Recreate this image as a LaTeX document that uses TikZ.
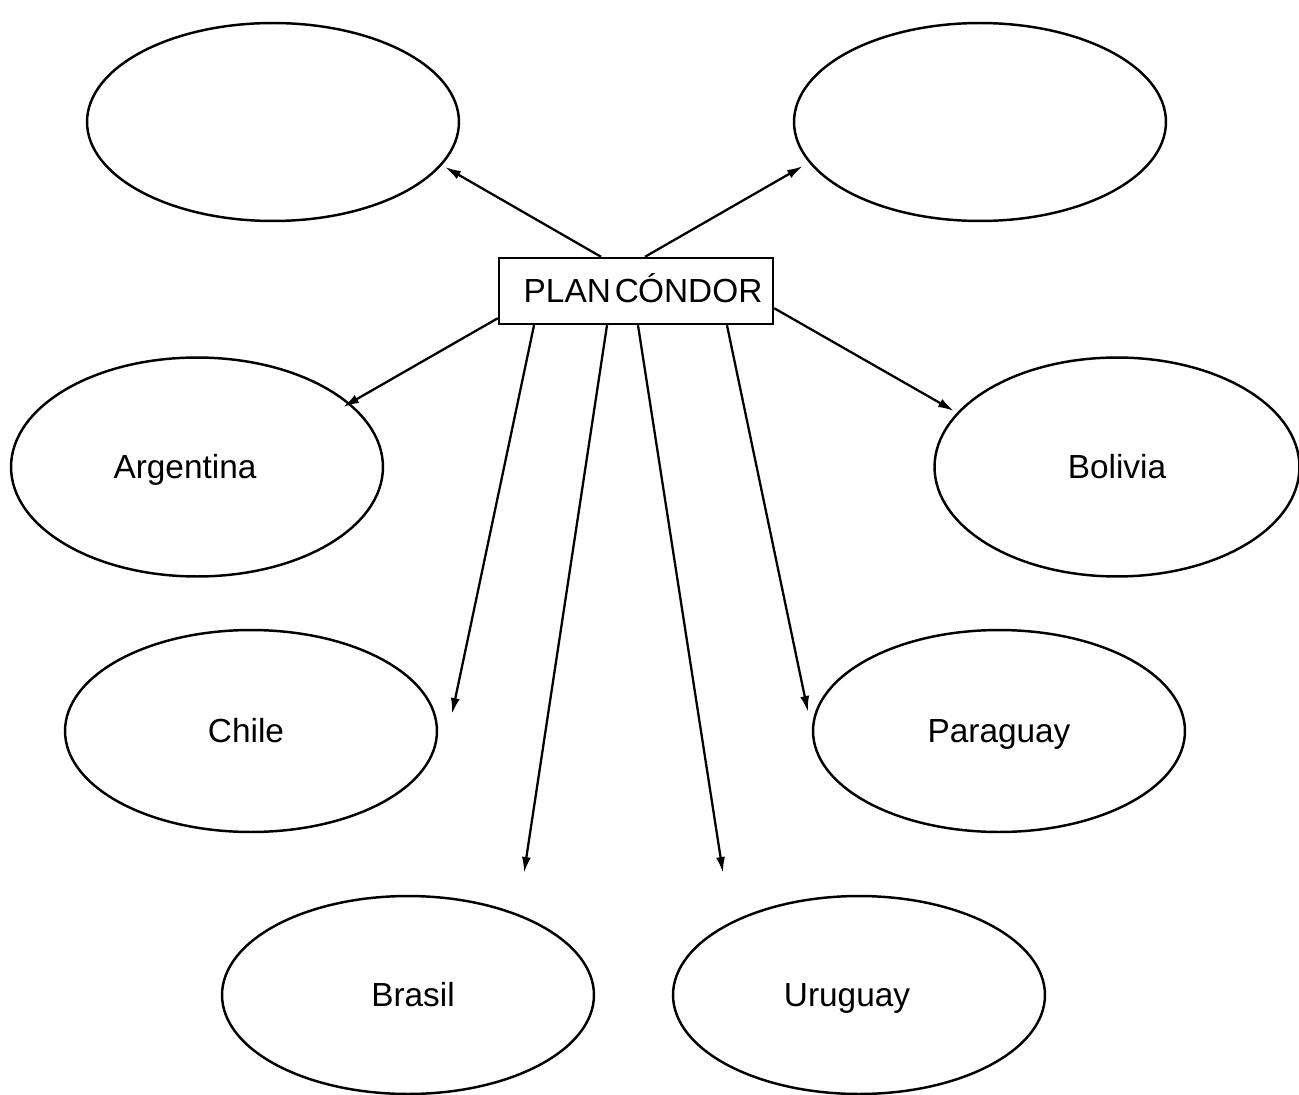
\documentclass[tikz,border=0pt]{standalone}
\usepackage{fontspec}
\setmainfont{Liberation Sans}
\usetikzlibrary{shapes.geometric,arrows.meta}
\begin{document}
\begin{tikzpicture}[x=0.02cm,y=-0.02cm,
        pais/.style={draw,ellipse,line width=1.4pt,minimum width=7.44cm,minimum height=3.96cm,inner sep=0pt,text height=13.6pt,text depth=0pt,font=\fontsize{19}{23}\selectfont},
        caja/.style={draw,line width=1.4pt,minimum width=5.48cm,minimum height=1.32cm,inner sep=0pt,text height=13.6pt,text depth=0pt,font=\fontsize{19}{23}\selectfont},
        flecha/.style={line width=1.3pt,-{Latex[length=3.2mm,width=1.8mm]}}]
        \useasboundingbox (0,0) rectangle (1299,1095);
        \node[caja] (plan) at (636,291) {\kern8pt PLAN\hspace{-3pt} C\kern-0.5ptÓNDOR};
        \node[pais] (vacio1) at (273,122) {};
        \node[pais] (vacio2) at (980,122) {};
        \node[pais,minimum height=4.38cm] (argentina) at (197,467) {Argentina\kern0.48cm};
        \node[pais,minimum height=4.38cm,minimum width=7.3cm] (bolivia) at (1117,467) {Bolivia};
        \node[pais,minimum height=4.04cm] (chile) at (251,731) {Chile\kern0.2cm};
        \node[pais,minimum height=4.04cm] (paraguay) at (999,731) {Paraguay};
        \node[pais] (brasil) at (408,995) {\kern0.2cm Brasil};
        \node[pais] (uruguay) at (859,995) {Uruguay\kern0.48cm};
        % puntas de flecha
        \coordinate (p1) at (445,167);
        \coordinate (p2) at (803,166);
        \coordinate (p3) at (343,407);
        \coordinate (p4) at (954,411);
        \coordinate (p5) at (452,714);
        \coordinate (p6) at (524,873);
        \coordinate (p7) at (723,873);
        \coordinate (p8) at (808,712);
        \draw[flecha] ([xshift=-0.7cm]plan.north) -- (p1);
        \draw[flecha] ([xshift=0.18cm]plan.north) -- (p2);
        \draw[flecha] ([yshift=0.14cm]plan.south west) -- (p3);
        \draw[flecha] ([yshift=0.34cm]plan.south east) -- (p4);
        \draw[flecha] ([xshift=-2.04cm]plan.south) -- (p5);
        \draw[flecha] ([xshift=-0.58cm]plan.south) -- (p6);
        \draw[flecha] ([xshift=0.04cm]plan.south) -- (p7);
        \draw[flecha] ([xshift=1.82cm]plan.south) -- (p8);
\end{tikzpicture}
\end{document}
